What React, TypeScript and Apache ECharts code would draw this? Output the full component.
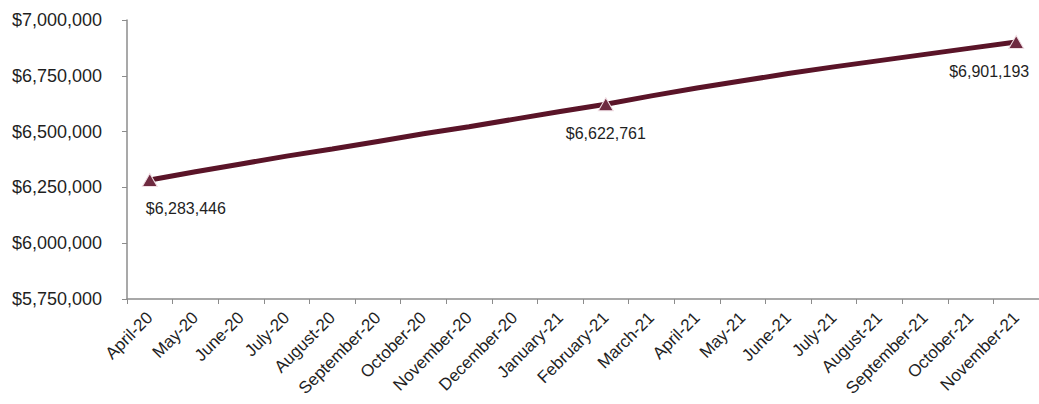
import React, { useEffect, useRef } from "react";
import * as echarts from "echarts";

const categories = [
  "April-20", "May-20", "June-20", "July-20", "August-20", "September-20",
  "October-20", "November-20", "December-20", "January-21", "February-21",
  "March-21", "April-21", "May-21", "June-21", "July-21", "August-21",
  "September-21", "October-21", "November-21",
];

const values = [
  6283446, 6320000, 6355000, 6390000, 6422000, 6456000, 6490000, 6522000,
  6556000, 6590000, 6622761, 6660000, 6695000, 6728000, 6760000, 6790000,
  6818000, 6846000, 6874000, 6901193,
];

const labeledIndices = [0, 10, 19];

const yMin = 5750000;
const yMax = 7000000;
const yInterval = 250000;

const fmt = (v: number) => "$" + Math.round(v).toLocaleString("en-US");

export default function App() {
  const ref = useRef<HTMLDivElement>(null);

  useEffect(() => {
    if (!ref.current) return;
    const chart = echarts.init(ref.current, null, { renderer: "svg" });
    const labelOffsets: Record<number, number[]> = { 0: [36, 0], 10: [0, 0], 19: [-27, 0] };
    const data = values.map((v, i) => {
      const shown = labeledIndices.includes(i);
      return {
        value: v,
        symbol: shown ? "triangle" : "none",
        symbolSize: shown ? [15, 13] : 0,
        label: {
          show: shown,
          position: "bottom",
          distance: 14,
          offset: labelOffsets[i] || [0, 0],
          formatter: (p: any) => fmt(p.value),
          color: "#1f1f1f",
          fontSize: 16,
          fontFamily: "Liberation Sans, Arial, sans-serif",
        },
      };
    });
    chart.setOption({
      animation: false,
      backgroundColor: "#ffffff",
      grid: { left: 127, right: 0, top: 20, bottom: 105, containLabel: false },
      xAxis: {
        type: "category",
        data: categories,
        boundaryGap: true,
        axisLine: { show: true, lineStyle: { color: "#8c8c8c", width: 1.5 } },
        axisTick: { show: true, length: 5, alignWithLabel: false, lineStyle: { color: "#8c8c8c" } },
        axisLabel: {
          rotate: 45,
          interval: 0,
          margin: 16,
          color: "#1f1f1f",
          fontSize: 17,
          fontFamily: "Liberation Sans, Arial, sans-serif",
        },
        splitLine: { show: false },
      },
      yAxis: {
        type: "value",
        min: yMin,
        max: yMax,
        interval: yInterval,
        axisLine: { show: true, lineStyle: { color: "#8c8c8c", width: 1.5 } },
        axisTick: { show: true, length: 5, lineStyle: { color: "#8c8c8c" } },
        axisLabel: {
          margin: 25,
          color: "#1f1f1f",
          fontSize: 18,
          fontFamily: "Liberation Sans, Arial, sans-serif",
          formatter: (v: number) => fmt(v),
        },
        splitLine: { show: false },
      },
      series: [
        {
          type: "line",
          data,
          lineStyle: { color: "#5a1428", width: 5 },
          itemStyle: { color: "#6e2a40", borderColor: "#f0dde3", borderWidth: 1 },
          showSymbol: true,
          smooth: false,
          z: 3,
        },
      ],
    });
    return () => chart.dispose();
  }, []);

  return (
    <div
      ref={ref}
      style={{ position: "absolute", left: 0, top: 0, width: 1039, height: 404 }}
    />
  );
}
